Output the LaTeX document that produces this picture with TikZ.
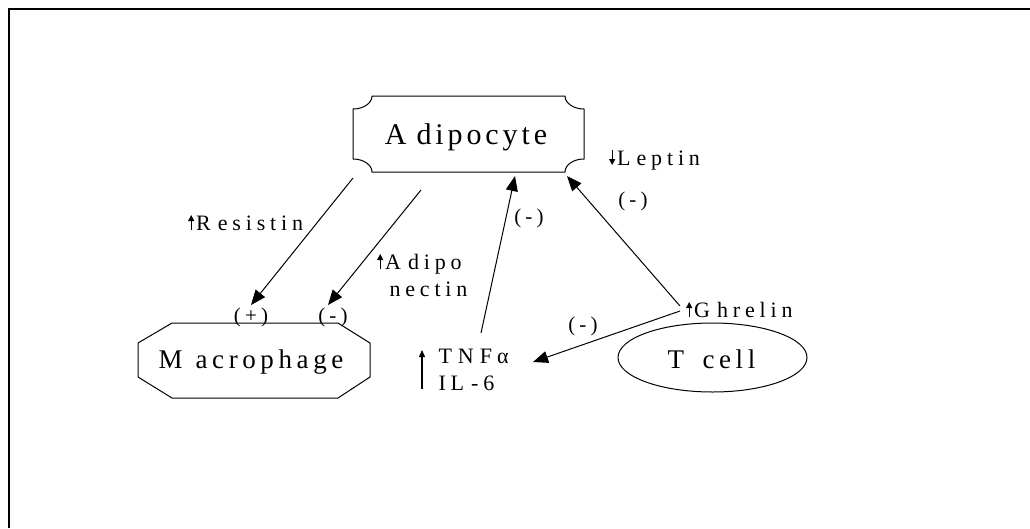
\documentclass[tikz,border=0pt]{standalone}
\usepackage{fontspec}
\setmainfont{Liberation Serif}
\usetikzlibrary{shapes.geometric,arrows.meta,calc}

% small bold arrows set in front of a label
\newcommand{\upar}{\tikz[baseline=0pt]\draw[line width=1.1pt,-{Triangle[length=6pt,width=6pt]}] (0pt,0pt) -- (0pt,15pt);\kern2pt}
\newcommand{\dnar}{\tikz[baseline=0pt]\draw[line width=1.1pt,-{Triangle[length=6pt,width=6pt]}] (0pt,15pt) -- (0pt,0pt);\kern2pt}

\begin{document}
\begin{tikzpicture}[x=1pt,y=1pt,
  line width=1pt,
  conn/.style={-{Triangle[length=15pt,width=12pt]}},
  bigtext/.style 2 args={inner sep=0pt, anchor=base,
    font=\fontsize{#1}{#1}\selectfont\addfontfeature{LetterSpace=#2}},
  lbl/.style={inner sep=0pt, anchor=base west,
    font=\fontsize{22}{27}\selectfont\addfontfeature{LetterSpace=22}},
  sign/.style={inner sep=0pt, anchor=center,
    font=\fontsize{21}{24}\selectfont\addfontfeature{LetterSpace=20}},
]

% canvas and frame
\useasboundingbox (0,0) rectangle (1030,-528);
\draw[line width=2pt] (9,-528) -- (9,-9) -- (1030,-9);

% Adipocyte plaque with concave corners
\def\La{353}\def\Ra{584}\def\Ta{-96}\def\Ba{-172}\def\ax{19}\def\ay{13}
\draw (\La,\Ta-\ay) -- (\La,\Ba+\ay)
  arc[start angle=90, end angle=0, x radius=\ax, y radius=\ay]
  -- (\Ra-\ax,\Ba)
  arc[start angle=180, end angle=90, x radius=\ax, y radius=\ay]
  -- (\Ra,\Ta-\ay)
  arc[start angle=270, end angle=180, x radius=\ax, y radius=\ay]
  -- (\La+\ax,\Ta)
  arc[start angle=0, end angle=-90, x radius=\ax, y radius=\ay]
  -- cycle;
\node[bigtext={30}{13}] (adipo) at (466,-144) {A\kern10pt dipocyte};

% Macrophage octagon
\draw (172,-323) -- (338,-323) -- (370,-343) -- (370,-377) -- (338,-398)
  -- (172,-398) -- (138,-377) -- (138,-343) -- cycle;
\node[bigtext={27}{17}] (macro) at (251,-368) {M\kern13pt acrophage};

% T cell ellipse
\node[draw, ellipse, minimum width=189pt, minimum height=69pt, inner sep=0pt]
  (tcellshape) at (712.5,-357.5) {};
\node[bigtext={27}{17}] (tcell) at (711.5,-368) {T \kern7pt cell};

% labels
\node[lbl] (resistin) at (188,-230) {\upar R\kern7pt esistin};
\node[lbl] (adipon) at (377,-269) {\upar A\kern7pt dipo};
\node[lbl] (nectin) at (389,-296) {nectin};
\node[lbl] (leptin) at (609,-165) {\dnar L\kern6pt eptin};
\node[lbl] (ghrelin) at (686,-317) {\upar G\kern7pt hrelin};
\node[lbl] (tnf) at (438,-363) {T\kern6pt N\kern6pt F\kern5pt α};
\node[lbl] (il6) at (438,-390) {IL\kern7pt -6};
\coordinate (tnfbot) at (422,-389);
\coordinate (tnftop) at (422,-350);
\draw[line width=1.1pt,-{Triangle[length=7pt,width=6pt]}] (tnfbot) -- (tnftop);

% sign labels
\node[sign] (plus) at (251,-317) {(+)};
\node[sign] (minA) at (333,-317) {(-)};
\node[sign] (minB) at (529,-218) {(-)};
\node[sign] (minC) at (633,-201) {(-)};
\node[sign] (minD) at (583,-326) {(-)};

% connector end points
\coordinate (resS) at (353,-178);
\coordinate (resE) at (251,-305);
\coordinate (adpS) at (421,-190);
\coordinate (adpE) at (328,-305);
\coordinate (tnfS) at (481,-333);
\coordinate (tnfE) at (515,-176);
\coordinate (ghrS) at (680,-306);
\coordinate (ghrE) at (567,-176);
\coordinate (ghrS2) at (680,-311);
\coordinate (ghrE2) at (533,-362);

\draw[conn] (resS) -- (resE);
\draw[conn] (adpS) -- (adpE);
\draw[conn] (tnfS) -- (tnfE);
\draw[conn] (ghrS) -- (ghrE);
\draw[conn] (ghrS2) -- (ghrE2);
\end{tikzpicture}
\end{document}
